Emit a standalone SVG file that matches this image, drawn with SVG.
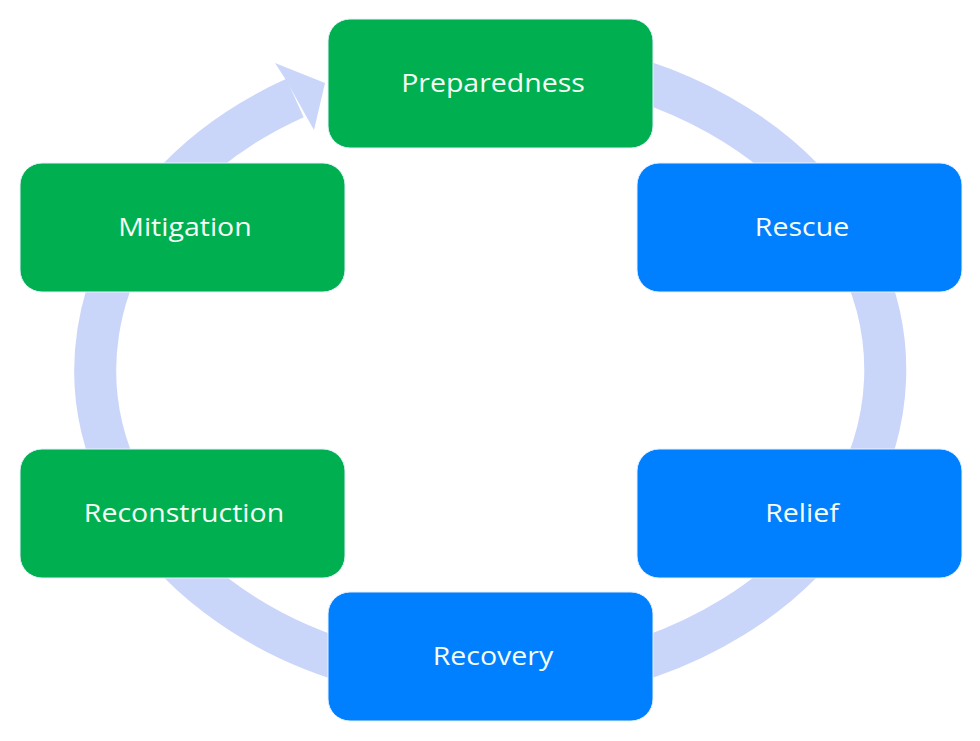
<svg xmlns="http://www.w3.org/2000/svg" width="980" height="741" viewBox="0 0 980 741">
  <style>
    .box { stroke: #e6f0ff; stroke-width: 1; }
    .green { fill: #00B050; }
    .blue { fill: #0080FF; }
    .label { font-family: "Open Sans", "Noto Sans", "Liberation Sans", sans-serif; font-size: 25px; fill: #F6FDF4; text-anchor: middle; }
    .ring { fill: none; stroke: #CAD5FA; stroke-width: 42; stroke-linecap: butt; }
  </style>
  <rect width="980" height="741" fill="#ffffff"/>
  <g id="connectors">
    <path class="ring" d="M 560 62 A 395 313 0 1 1 295 98"/>
    <polygon points="275,63 325,83 314,130 305,114 286,80" fill="#CAD5FA"/>
  </g>
  <g id="node-preparedness">
    <rect class="box green" x="328" y="19" width="325" height="129" rx="22"/>
    <text class="label" transform="translate(493 92) scale(1.14 1)">Preparedness</text>
  </g>
  <g id="node-rescue">
    <rect class="box blue" x="637" y="163" width="325" height="129" rx="22"/>
    <text class="label" transform="translate(802 236) scale(1.14 1)">Rescue</text>
  </g>
  <g id="node-relief">
    <rect class="box blue" x="637" y="449" width="325" height="129" rx="22"/>
    <text class="label" transform="translate(802 522) scale(1.14 1)">Relief</text>
  </g>
  <g id="node-recovery">
    <rect class="box blue" x="328" y="592" width="325" height="129" rx="22"/>
    <text class="label" transform="translate(493 665) scale(1.14 1)">Recovery</text>
  </g>
  <g id="node-reconstruction">
    <rect class="box green" x="20" y="449" width="325" height="129" rx="22"/>
    <text class="label" transform="translate(184 522) scale(1.14 1)">Reconstruction</text>
  </g>
  <g id="node-mitigation">
    <rect class="box green" x="20" y="163" width="325" height="129" rx="22"/>
    <text class="label" transform="translate(185 236) scale(1.14 1)">Mitigation</text>
  </g>
</svg>
